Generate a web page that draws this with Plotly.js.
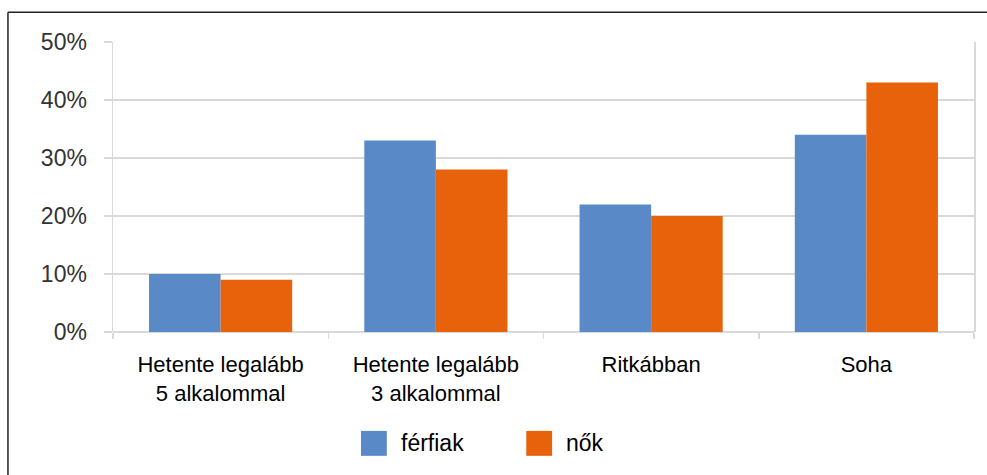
<!DOCTYPE html>
<html><head><meta charset="utf-8">
<script src="https://cdn.plot.ly/plotly-3.0.1.min.js"></script>
<style>html,body{margin:0;padding:0;background:#fff;}#chart{width:987px;height:475px;}</style>
</head><body><div id="chart"></div>
<script>
var categories = ["Hetente legalább<br>5 alkalommal", "Hetente legalább<br>3 alkalommal", "Ritkábban", "Soha"];
var seriesNames = ["férfiak", "nők"];
var ferfiak = [10, 33, 22, 34];
var nok = [9, 28, 20, 43];
var yTickVals = [0, 10, 20, 30, 40, 50];
var yTickText = ["0%", "10%", "20%", "30%", "40%", "50%"];
var colors = ["#5a89c8", "#e8610b"];

var font = "Arial, 'Liberation Sans', sans-serif";
var traces = [
  {type: "bar", x: categories, y: ferfiak, name: seriesNames[0], marker: {color: colors[0]}, hoverinfo: "none"},
  {type: "bar", x: categories, y: nok, name: seriesNames[1], marker: {color: colors[1]}, hoverinfo: "none"}
];

// manual legend (large square swatches as in reference)
var legendX = [0.288, 0.480];
var shapes = [
  {type: "line", xref: "paper", yref: "paper", x0: -0.122, x1: 1.02, y0: 1.103, y1: 1.103, line: {color: "#222", width: 1.5}},
  {type: "line", xref: "paper", yref: "paper", x0: -0.122, x1: -0.122, y0: 1.103, y1: -0.5, line: {color: "#222", width: 1.5}}
];
var annotations = [];
for (var i = 0; i < seriesNames.length; i++) {
  shapes.push({type: "rect", xref: "paper", yref: "paper", x0: legendX[i], x1: legendX[i] + 0.030, y0: -0.341, y1: -0.427, fillcolor: colors[i], line: {width: 0}});
  annotations.push({xref: "paper", yref: "paper", x: legendX[i] + 0.044, y: -0.384, xanchor: "left", yanchor: "middle", text: seriesNames[i], showarrow: false, font: {family: font, size: 23, color: "#000"}});
}

var layout = {
  width: 987, height: 475,
  margin: {l: 113, r: 13, t: 42, b: 143},
  paper_bgcolor: "#fff", plot_bgcolor: "#fff",
  barmode: "group", bargap: 0.335, bargroupgap: 0,
  showlegend: false,
  xaxis: {
    type: "category", tickson: "boundaries", ticks: "outside", ticklen: 6, tickcolor: "#d9d9d9", tickwidth: 1.5,
    showgrid: false, showline: false, zeroline: false,
    tickfont: {family: font, size: 22, color: "#000"}, ticklabelstandoff: 17
  },
  yaxis: {
    range: [0, 50], tickvals: yTickVals, ticktext: yTickText,
    ticks: "outside", ticklen: 8, tickcolor: "#d9d9d9", tickwidth: 1.5,
    showgrid: true, gridcolor: "#d9d9d9", gridwidth: 1.5,
    showline: true, mirror: true, linecolor: "#d9d9d9", linewidth: 1.5,
    zeroline: true, zerolinecolor: "#d9d9d9", zerolinewidth: 1.5,
    tickfont: {family: font, size: 23, color: "#333"}, ticklabelstandoff: 12
  },
  shapes: shapes,
  annotations: annotations
};
Plotly.newPlot("chart", traces, layout, {displayModeBar: false, staticPlot: true});
</script></body></html>
